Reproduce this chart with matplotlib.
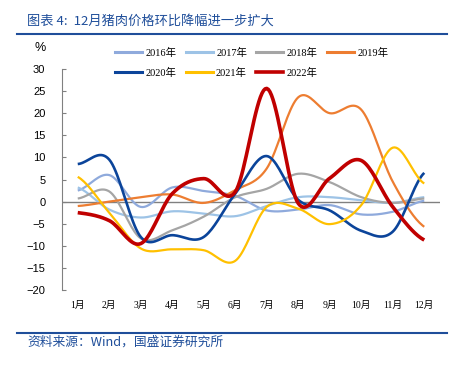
import numpy as np
import matplotlib
matplotlib.use("Agg")
import matplotlib.pyplot as plt
from matplotlib.lines import Line2D

plt.rcParams["font.family"] = ["Liberation Sans", "Noto Sans CJK SC"]

# データ（月次・環比 %）
months = ["1月", "2月", "3月", "4月", "5月", "6月", "7月", "8月", "9月", "10月", "11月", "12月"]
y2016 = [2.5, 6.0, -1.2, 3.2, 2.4, 1.3, -2.0, -1.8, -0.8, -2.9, -2.3, 0.2]
y2017 = [3.2, -1.8, -3.6, -2.2, -2.7, -3.3, -1.0, 1.0, 1.0, 0.3, -0.3, 1.0]
y2018 = [0.7, 2.3, -8.3, -6.5, -3.4, 1.0, 2.9, 6.3, 4.4, 1.0, -0.3, 0.7]
y2019 = [-1.0, 0.0, 1.0, 1.6, -0.3, 2.6, 7.5, 23.6, 20.0, 20.8, 4.5, -5.7]
y2020 = [8.5, 9.5, -8.0, -7.6, -8.0, 1.8, 10.3, 0.4, -2.0, -6.6, -6.8, 6.5]
y2021 = [5.6, -2.5, -10.6, -10.8, -11.0, -13.4, -1.2, -1.6, -5.1, -0.8, 12.2, 4.1]
y2022 = [-2.5, -4.3, -9.5, 1.8, 5.2, 2.2, 25.6, -0.4, 5.3, 9.3, -1.2, -8.7]

series = [
    ("2016年", y2016, "#8FAADC", 1.6),
    ("2017年", y2017, "#9DC3E6", 1.6),
    ("2018年", y2018, "#A5A5A5", 1.6),
    ("2019年", y2019, "#ED7D31", 1.6),
    ("2020年", y2020, "#0B449A", 1.9),
    ("2021年", y2021, "#FFC000", 1.6),
    ("2022年", y2022, "#C00000", 2.6),
]


def smooth(vals, n=20):
    # Excel風のスムージング（Catmull-Rom）
    p = np.asarray(vals, dtype=float)
    x = np.arange(len(p), dtype=float)
    xs, ys = [], []
    for i in range(len(p) - 1):
        p0 = p[i - 1] if i > 0 else p[i]
        p3 = p[i + 2] if i + 2 < len(p) else p[i + 1]
        m0 = (p[i + 1] - p0) / 2
        m1 = (p3 - p[i]) / 2
        t = np.linspace(0, 1, n, endpoint=False)
        h00 = 2 * t**3 - 3 * t**2 + 1
        h10 = t**3 - 2 * t**2 + t
        h01 = -2 * t**3 + 3 * t**2
        h11 = t**3 - t**2
        ys.append(h00 * p[i] + h10 * m0 + h01 * p[i + 1] + h11 * m1)
        xs.append(x[i] + t)
    xs.append([x[-1]])
    ys.append([p[-1]])
    return np.concatenate(xs), np.concatenate(ys)


fig = plt.figure(figsize=(4.57, 3.70), dpi=100)
ax = fig.add_axes([62 / 457, 1 - 290 / 370, 378 / 457, 221 / 370])

ax.axhline(0, color="#808080", lw=1.0, zorder=1)
for name, vals, col, lw in series:
    xs, ys = smooth(vals)
    ax.plot(xs, ys, color=col, lw=lw, solid_capstyle="butt", zorder=2)

ax.set_xlim(-0.5, 11.5)
ax.set_ylim(-20, 30)
ax.set_yticks(range(-20, 31, 5))
ax.tick_params(axis="y", direction="in", length=3, labelsize=8, pad=12, color="#808080")
ax.set_xticks(range(12))
ax.set_xticklabels(months, family=["Liberation Serif", "Noto Sans CJK SC"], fontsize=7)
ax.tick_params(axis="x", length=0, pad=8)
for s in ["top", "right", "bottom"]:
    ax.spines[s].set_visible(False)
ax.spines["left"].set_color("#808080")

fig.text(40 / 457, 1 - 48 / 370, "%", fontsize=9, ha="center", va="center")

# 凡例
handles = [Line2D([], [], color=c, lw=(2.6 if n == "2022年" else 2.2)) for n, v, c, lw in series]
labels = [n for n, v, c, lw in series]
fig.legend(handles[:4], labels[:4], loc="center left", bbox_to_anchor=(106 / 457, 1 - 53 / 370),
           ncol=4, frameon=False, handlelength=2.6, handletextpad=0.3, columnspacing=0.9,
           prop={"family": ["Liberation Serif", "Noto Sans CJK SC"], "size": 7.5})
fig.legend(handles[4:], labels[4:], loc="center left", bbox_to_anchor=(106 / 457, 1 - 73 / 370),
           ncol=3, frameon=False, handlelength=2.6, handletextpad=0.3, columnspacing=0.9,
           prop={"family": ["Liberation Serif", "Noto Sans CJK SC"], "size": 7.5})

# タイトルと出所
blue = "#1F4E9A"
fig.text(27 / 457, 1 - 21 / 370, "图表 4:  12月猪肉价格环比降幅进一步扩大", fontsize=9.5,
         color=blue, ha="left", va="center", style="italic",
         family=["Noto Sans CJK SC", "DejaVu Sans"])
fig.add_artist(Line2D([17 / 457, 447 / 457], [1 - 34 / 370, 1 - 34 / 370], color=blue, lw=1.5))
fig.add_artist(Line2D([17 / 457, 447 / 457], [1 - 333 / 370, 1 - 333 / 370], color=blue, lw=1.5))
fig.text(27 / 457, 1 - 342 / 370, "资料来源：Wind，国盛证券研究所", fontsize=9.2,
         color=blue, ha="left", va="center", style="italic",
         family=["Noto Sans CJK SC", "DejaVu Sans"])

fig.savefig("out.png", dpi=100)
